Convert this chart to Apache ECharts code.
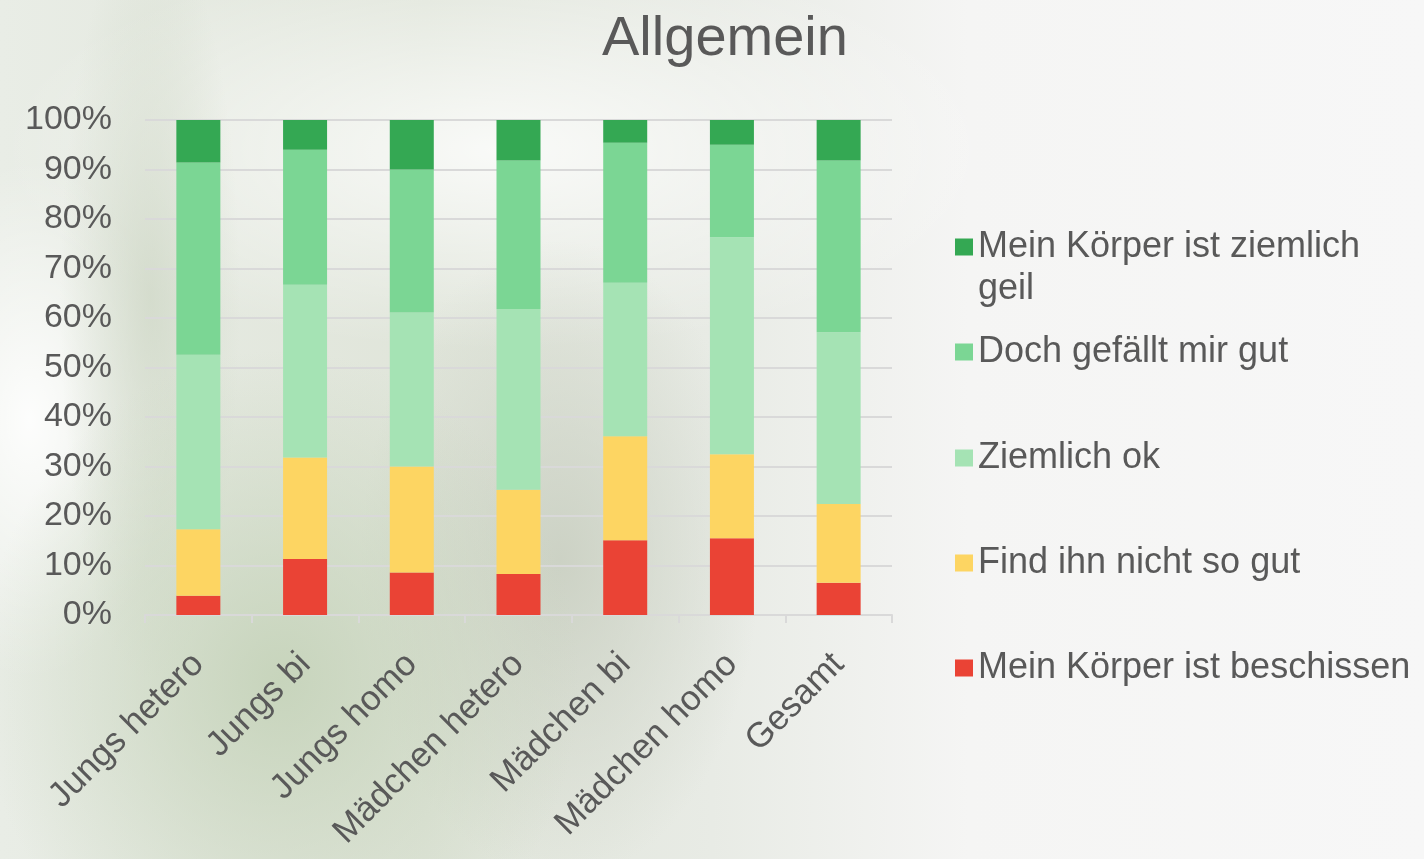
<!DOCTYPE html>
<html>
<head>
<meta charset="utf-8">
<title>Allgemein</title>
<script src="https://cdn.jsdelivr.net/npm/echarts@6/dist/echarts.min.js"></script>
<style>
    html, body {
        margin: 0;
        padding: 0;
        width: 1424px;
        height: 859px;
        overflow: hidden;
    }
    body {
        background:
            radial-gradient(ellipse 300px 330px at 280px 680px, rgba(196, 210, 184, 0.9), rgba(196, 210, 184, 0) 100%),
            radial-gradient(ellipse 200px 320px at 560px 560px, rgba(200, 206, 192, 0.85), rgba(200, 206, 192, 0) 100%),
            radial-gradient(ellipse 90px 380px at 150px 300px, rgba(205, 214, 196, 0.7), rgba(205, 214, 196, 0) 100%),
            radial-gradient(ellipse 140px 260px at 30px 420px, rgba(255, 255, 255, 0.9), rgba(255, 255, 255, 0) 100%),
            radial-gradient(ellipse 500px 200px at 500px 150px, rgba(255, 255, 255, 0.8), rgba(255, 255, 255, 0) 100%),
            linear-gradient(90deg, #e9ede6 0%, #e0e5da 30%, #e8ebe5 50%, #f5f5f4 68%, #f7f7f7 100%);
    }
    #main {
        width: 1424px;
        height: 859px;
    }
</style>
</head>
<body>
<div id="main"></div>
<script>
    var categories = ['Jungs hetero', 'Jungs bi', 'Jungs homo', 'Mädchen hetero', 'Mädchen bi', 'Mädchen homo', 'Gesamt'];
    // Anteile in %, von unten nach oben gestapelt
    var beschissen = [3.9, 11.3, 8.6, 8.3, 15.1, 15.5, 6.5];
    var nichtSoGut = [13.4, 20.5, 21.4, 17.0, 21.0, 17.0, 15.9];
    var ziemlichOk = [35.3, 34.9, 31.1, 36.5, 31.0, 43.8, 34.7];
    var gefaelltGut = [38.8, 27.3, 28.9, 30.0, 28.3, 18.7, 34.7];
    var ziemlichGeil = [8.6, 6.0, 10.0, 8.2, 4.6, 5.0, 8.2];
    var yTicks = [0, 10, 20, 30, 40, 50, 60, 70, 80, 90, 100];

    var seriesNames = ['Mein Körper ist beschissen', 'Find ihn nicht so gut', 'Ziemlich ok', 'Doch gefällt mir gut', 'Mein Körper ist ziemlich geil'];
    var seriesData = [beschissen, nichtSoGut, ziemlichOk, gefaelltGut, ziemlichGeil];
    var colors = ['#ea4335', '#fdd562', '#a5e3b4', '#7bd694', '#34a853'];

    var textColor = '#595959';
    var font = 'Arial, "Liberation Sans", sans-serif';

    // one legend per entry so the spacing can follow the picture
    var legendCenters = [668, 563, 458, 352, 247];
    var legends = seriesNames.map(function (name, i) {
        var two = (i === 4);
        return {
            data: [name],
            orient: 'vertical',
            left: 955,
            top: two ? legendCenters[i] - 63 : legendCenters[i] - 21,
            padding: 0,
            icon: 'rect',
            itemWidth: 18,
            itemHeight: 17,
            selectedMode: false,
            formatter: function (n) {
                // leere erste Zeile, damit das Kästchen neben der ersten Textzeile sitzt
                return n === 'Mein Körper ist ziemlich geil' ? ' \nMein Körper ist ziemlich\ngeil' : n;
            },
            textStyle: {
                color: textColor,
                fontSize: 36,
                fontFamily: font,
                lineHeight: 42
            }
        };
    });

    var option = {
        animation: false,
        title: {
            text: 'Allgemein',
            left: 602,
            top: 12,
            padding: 0,
            textStyle: {
                color: textColor,
                fontSize: 56,
                fontWeight: 'normal',
                fontFamily: font
            }
        },
        legend: legends,
        grid: {
            left: 145,
            right: 532,
            top: 120,
            bottom: 244
        },
        xAxis: {
            type: 'category',
            data: categories,
            axisLine: {
                lineStyle: {color: '#d9d9d9', width: 2}
            },
            axisTick: {
                show: true,
                length: 8,
                lineStyle: {color: '#d9d9d9', width: 2}
            },
            axisLabel: {
                interval: 0,
                rotate: 45,
                margin: 44,
                color: textColor,
                fontSize: 35,
                fontFamily: font
            }
        },
        yAxis: {
            type: 'value',
            min: yTicks[0],
            max: yTicks[yTicks.length - 1],
            interval: 10,
            axisLine: {show: false},
            axisTick: {show: false},
            splitLine: {
                lineStyle: {color: '#d9d9d9', width: 2}
            },
            axisLabel: {
                margin: 33,
                color: textColor,
                fontSize: 34,
                fontFamily: font,
                formatter: '{value}%'
            }
        },
        series: seriesNames.map(function (name, i) {
            return {
                name: name,
                type: 'bar',
                stack: 'gesamt',
                barWidth: 44,
                itemStyle: {color: colors[i]},
                data: seriesData[i]
            };
        })
    };

    var myChart = echarts.init(document.getElementById('main'));
    myChart.setOption(option);
</script>
</body>
</html>
